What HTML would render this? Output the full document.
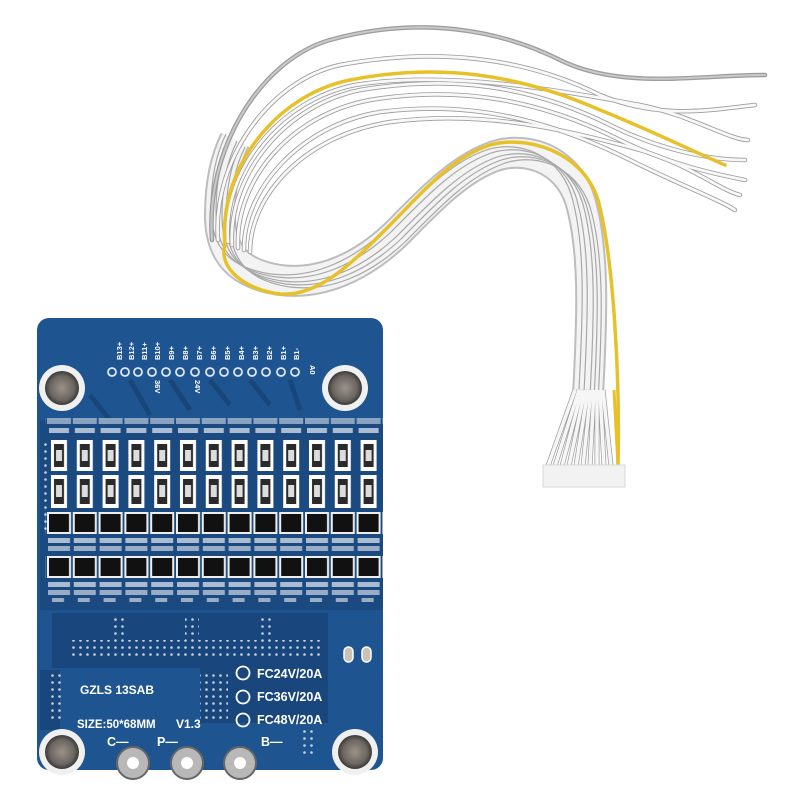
<!DOCTYPE html>
<html><head><meta charset="utf-8"><style>
html,body{margin:0;padding:0;background:#fff;width:800px;height:800px;overflow:hidden}
svg{display:block}
text{font-family:"Liberation Sans",sans-serif;font-weight:bold;fill:#fff}
</style></head><body>
<svg width="800" height="800" viewBox="0 0 800 800" xmlns="http://www.w3.org/2000/svg">
<defs>
<pattern id="col" patternUnits="userSpaceOnUse" x="47" y="0" width="25.8" height="800">
  <rect x="0" y="418" width="24" height="6" fill="#b9c8dc" opacity="0.7"/>
  <rect x="2" y="428" width="20" height="5" fill="#d0dae8" opacity="0.8"/>
  <rect x="4" y="440" width="16" height="31" fill="#fff"/>
  <rect x="7" y="444" width="10" height="23" fill="#2a2a2a"/>
  <rect x="9" y="450" width="6" height="11" fill="#ddd"/>
  <rect x="4" y="475" width="16" height="33" fill="#fff"/>
  <rect x="7" y="479" width="10" height="25" fill="#2a2a2a"/>
  <rect x="9" y="485" width="6" height="12" fill="#ddd"/>
  <rect x="0" y="512" width="24" height="22" fill="#eee"/>
  <rect x="2" y="514" width="20" height="18" fill="#111"/>
  <rect x="1" y="538" width="22" height="5" fill="#cfd8e6" opacity="0.8"/>
  <rect x="1" y="546" width="22" height="5" fill="#cfd8e6" opacity="0.7"/>
  <rect x="0" y="556" width="24" height="22" fill="#eee"/>
  <rect x="2" y="558" width="20" height="18" fill="#111"/>
  <rect x="1" y="582" width="22" height="5" fill="#cfd8e6" opacity="0.8"/>
  <rect x="1" y="590" width="22" height="5" fill="#cfd8e6" opacity="0.7"/>
  <rect x="5" y="598" width="12" height="4" fill="#cfd8e6" opacity="0.7"/>
</pattern>
<pattern id="dots" patternUnits="userSpaceOnUse" width="7" height="7">
  <circle cx="3.5" cy="3.5" r="1.3" fill="#c7d3e3"/>
</pattern>
<radialGradient id="scr" cx="50%" cy="50%" r="50%">
  <stop offset="0" stop-color="#9a928a"/><stop offset="0.7" stop-color="#6d6761"/><stop offset="1" stop-color="#3a3a3a"/>
</radialGradient>
<path id="main" d="M588 395 C 592 320, 595 250, 580 200 C 565 155, 520 145, 490 158 C 455 172, 425 205, 395 235 C 360 268, 320 285, 280 280 C 240 274, 220 255, 220 215 C 220 185, 225 160, 235 140"/>
</defs>

<g fill="none">
  <!-- main bundle -->
  <use href="#main" stroke="#bdbdbd" stroke-width="32" stroke-linecap="butt"/>
  <use href="#main" stroke="#f3f3f3" stroke-width="28" stroke-linecap="butt"/>
  <g stroke="#a8a8a8" stroke-width="1.2">
    <use href="#main" transform="translate(-9,-6)"/>
    <use href="#main" transform="translate(-4,-3)"/>
    <use href="#main" transform="translate(2,1)"/>
    <use href="#main" transform="translate(6,4)"/>
    <use href="#main" transform="translate(10,7)"/>
  </g>
  <path stroke="#e6c12a" stroke-width="3.5" stroke-linecap="round" d="M618 466 C 620 380, 614 260, 598 200 C 582 150, 525 135, 490 145 C 450 158, 420 195, 390 225 C 355 260, 320 297, 280 294 C 245 290, 218 268, 225 245"/>

  <!-- fan wires (top) -->
  <g stroke-linecap="round">
  <g stroke="#9c9c9c" stroke-width="4.5">
    <path d="M212 240 C 205 150, 260 60, 330 40 C 420 15, 500 30, 560 60 C 620 90, 700 75, 765 75"/>
    <path d="M218 240 C 212 160, 270 80, 340 65 C 430 48, 520 55, 600 95 C 660 120, 710 110, 755 105"/>
    <path d="M232 245 C 228 175, 285 105, 360 90 C 450 75, 530 85, 610 125 C 660 150, 710 160, 745 160"/>
    <path d="M238 248 C 235 180, 290 115, 370 100 C 460 85, 540 100, 620 140 C 670 165, 720 175, 745 180"/>
    <path d="M244 250 C 243 190, 300 125, 380 112 C 470 100, 550 120, 630 160 C 680 185, 720 200, 735 210"/>
    <path d="M250 252 C 250 195, 305 135, 390 122 C 480 110, 560 128, 640 150 C 690 165, 720 190, 740 195"/>
    <path d="M228 242 C 222 170, 280 100, 355 85 C 445 70, 560 90, 640 105 C 690 115, 730 140, 748 140"/>
  </g>
  <g stroke="#f8f8f8" stroke-width="2.8">
    <path d="M218 240 C 212 160, 270 80, 340 65 C 430 48, 520 55, 600 95 C 660 120, 710 110, 755 105"/>
    <path d="M232 245 C 228 175, 285 105, 360 90 C 450 75, 530 85, 610 125 C 660 150, 710 160, 745 160"/>
    <path d="M238 248 C 235 180, 290 115, 370 100 C 460 85, 540 100, 620 140 C 670 165, 720 175, 745 180"/>
    <path d="M244 250 C 243 190, 300 125, 380 112 C 470 100, 550 120, 630 160 C 680 185, 720 200, 735 210"/>
    <path d="M250 252 C 250 195, 305 135, 390 122 C 480 110, 560 128, 640 150 C 690 165, 720 190, 740 195"/>
    <path d="M228 242 C 222 170, 280 100, 355 85 C 445 70, 560 90, 640 105 C 690 115, 730 140, 748 140"/>
  </g>
  <path stroke="#c9c9c9" stroke-width="2" d="M212 240 C 205 150, 260 60, 330 40 C 420 15, 500 30, 560 60 C 620 90, 700 75, 765 75"/>
  <path stroke="#e6c12a" stroke-width="3.5" d="M225 245 C 218 170, 275 95, 350 80 C 440 62, 520 75, 600 110 C 650 130, 690 150, 725 165"/>
  </g>

  <!-- near connector -->
  <g stroke="#a0a0a0" stroke-width="5">
    <path d="M575 390 L548 466 M579 390 L555 466 M582 390 L562 466 M585 390 L569 466 M588 390 L576 466 M591 390 L583 466 M594 390 L590 466 M597 390 L597 466 M600 390 L604 466 M603 390 L611 466"/>
  </g>
  <g stroke="#f6f6f6" stroke-width="3.5">
    <path d="M575 390 L548 466 M579 390 L555 466 M582 390 L562 466 M585 390 L569 466 M588 390 L576 466 M591 390 L583 466 M594 390 L590 466 M597 390 L597 466 M600 390 L604 466 M603 390 L611 466"/>
  </g>
  <path stroke="#e6c12a" stroke-width="3" d="M614 390 L618 466"/>
</g>
<rect x="543" y="465" width="82" height="22" fill="#f2f2f2" stroke="#d8d8d8"/>

<!-- board -->
<rect x="37" y="318" width="346" height="452" rx="12" fill="#1e5591"/>
<g fill="none" stroke="#174577" stroke-width="5" opacity="0.9">
  <path d="M90 395 L110 420 M130 380 L150 415 M170 380 L190 410 M210 380 L230 405 M250 380 L270 405 M290 380 L300 410"/>
</g>
<rect x="52" y="613" width="276" height="55" fill="#19477d"/>
<rect x="200" y="668" width="128" height="55" fill="#19477d"/>
<rect x="40" y="670" width="20" height="60" fill="#19477d"/>
<rect x="40" y="420" width="343" height="190" fill="#1a4a80"/>
<rect x="45" y="410" width="338" height="200" fill="url(#col)"/>
<rect x="40" y="440" width="8" height="90" fill="url(#dots)"/>
<rect x="70" y="640" width="250" height="16" fill="url(#dots)"/>
<rect x="110" y="618" width="14" height="22" fill="url(#dots)"/>
<rect x="185" y="618" width="14" height="22" fill="url(#dots)"/>
<rect x="258" y="618" width="14" height="22" fill="url(#dots)"/>
<rect x="50" y="672" width="14" height="50" fill="url(#dots)"/>
<rect x="200" y="672" width="28" height="50" fill="url(#dots)"/>
<rect x="300" y="730" width="14" height="25" fill="url(#dots)"/>

<!-- top labels -->
<g font-size="7.5">
  <text transform="translate(122,360) rotate(-90)">B13+</text>
  <text transform="translate(134,360) rotate(-90)">B12+</text>
  <text transform="translate(147,360) rotate(-90)">B11+</text>
  <text transform="translate(160,360) rotate(-90)">B10+</text>
  <text transform="translate(174,360) rotate(-90)">B9+</text>
  <text transform="translate(188,360) rotate(-90)">B8+</text>
  <text transform="translate(202,360) rotate(-90)">B7+</text>
  <text transform="translate(216,360) rotate(-90)">B6+</text>
  <text transform="translate(230,360) rotate(-90)">B5+</text>
  <text transform="translate(244,360) rotate(-90)">B4+</text>
  <text transform="translate(258,360) rotate(-90)">B3+</text>
  <text transform="translate(272,360) rotate(-90)">B2+</text>
  <text transform="translate(286,360) rotate(-90)">B1+</text>
  <text transform="translate(299,360) rotate(-90)">B1-</text>
  <text transform="translate(310,365) rotate(90)">A0</text>
  <text transform="translate(155,380) rotate(90)">36V</text>
  <text transform="translate(195,380) rotate(90)">24V</text>
</g>
<g fill="none" stroke="#dfe6ef" stroke-width="1.8">
  <circle cx="112" cy="372" r="4"/><circle cx="125" cy="372" r="4"/><circle cx="138" cy="372" r="4"/><circle cx="152" cy="372" r="4"/><circle cx="166" cy="372" r="4"/><circle cx="180" cy="372" r="4"/><circle cx="195" cy="372" r="4"/><circle cx="210" cy="372" r="4"/><circle cx="224" cy="372" r="4"/><circle cx="238" cy="372" r="4"/><circle cx="252" cy="372" r="4"/><circle cx="266" cy="372" r="4"/><circle cx="281" cy="372" r="4"/><circle cx="295" cy="372" r="4"/>
</g>

<!-- screws -->
<g>
  <circle cx="62" cy="388" r="23" fill="#f0f0f0"/><circle cx="62" cy="388" r="17" fill="url(#scr)"/>
  <circle cx="345" cy="388" r="23" fill="#f0f0f0"/><circle cx="345" cy="388" r="17" fill="url(#scr)"/>
  <circle cx="62" cy="752" r="23" fill="#f0f0f0"/><circle cx="62" cy="752" r="17" fill="url(#scr)"/>
  <circle cx="355" cy="752" r="23" fill="#f0f0f0"/><circle cx="355" cy="752" r="17" fill="url(#scr)"/>
</g>
<g fill="#b8b8b8" stroke="#666" stroke-width="2">
  <circle cx="133" cy="763" r="16"/><circle cx="187" cy="763" r="16"/><circle cx="240" cy="763" r="16"/>
</g>
<g fill="#fff"><circle cx="133" cy="763" r="6"/><circle cx="187" cy="763" r="6"/><circle cx="240" cy="763" r="6"/></g>
<g fill="#c8c2b8" stroke="#fff" stroke-width="1.5"><rect x="344" y="647" width="9" height="15" rx="4.5"/><rect x="362" y="647" width="9" height="15" rx="4.5"/></g>

<!-- lower text -->
<g font-size="12.5">
  <text x="257" y="678">FC24V/20A</text>
  <text x="257" y="701">FC36V/20A</text>
  <text x="257" y="724">FC48V/20A</text>
  <text x="80" y="694" font-size="12">GZLS  13SAB</text>
  <text x="77" y="728" font-size="11.5">SIZE:50*68MM</text>
  <text x="176" y="728" font-size="12">V1.3</text>
  <text x="107" y="746">C—</text>
  <text x="157" y="746">P—</text>
  <text x="261" y="746">B—</text>
</g>
<g fill="none" stroke="#fff" stroke-width="1.8">
  <circle cx="243" cy="673" r="6.5"/><circle cx="243" cy="697" r="6.5"/><circle cx="243" cy="720" r="6.5"/>
</g>
</svg>
</body></html>
